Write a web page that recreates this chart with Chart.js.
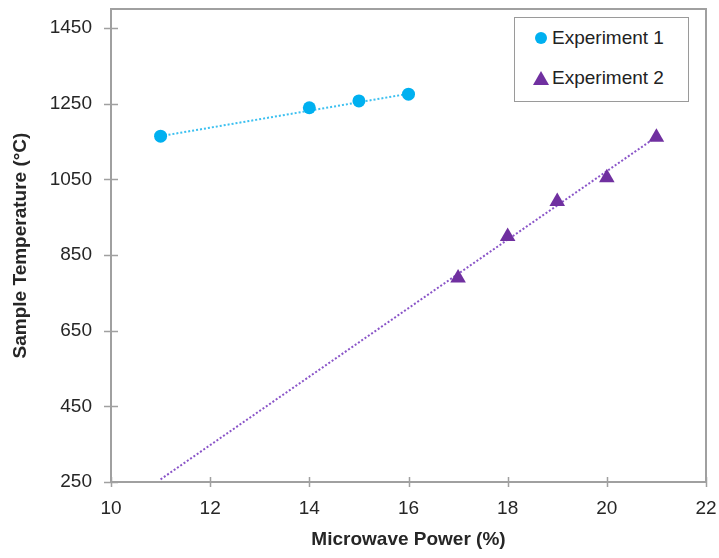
<!DOCTYPE html>
<html lang="en">
<head>
  <meta charset="UTF-8" />
  <title>Sample temperature vs microwave power</title>
  <script src="https://cdn.jsdelivr.net/npm/chart.js"></script>
  <style>
    body {
      margin: 0;
      background: #fff;
      font-family: "Liberation Sans", Arial, sans-serif;
    }
    #wrap {
      position: relative;
      width: 719px;
      height: 558px;
    }
    #legend {
      position: absolute;
      left: 514px;
      top: 17px;
      width: 173px;
      height: 83px;
      border: 1px solid #9a9a9a;
      background: #fff;
      color: #222;
      font-size: 19px;
    }
    .item {
      position: absolute;
      left: 37px;
      line-height: 22px;
    }
    .dot {
      position: absolute;
      left: 20px;
      width: 12px;
      height: 12px;
      border-radius: 50%;
      background: #00b0f0;
    }
    .tri {
      position: absolute;
      left: 18px;
      width: 0;
      height: 0;
      border-left: 8px solid transparent;
      border-right: 8px solid transparent;
      border-bottom: 14px solid #7030a0;
    }
  </style>
</head>
<body>
  <div id="wrap">
    <canvas id="chart"></canvas>
    <div id="legend">
      <span class="dot" style="top:14px"></span>
      <span class="item" style="top:9px">Experiment 1</span>
      <span class="tri" style="top:53px"></span>
      <span class="item" style="top:49px">Experiment 2</span>
    </div>
  </div>

  <script>
    // values
    const exp1X = [11, 14, 15, 16];
    const exp1Y = [1164, 1239, 1257, 1275];
    const exp2X = [17, 18, 19, 20, 21];
    const exp2Y = [789, 899, 991, 1054, 1161];

    // trendline end points (as drawn)
    const trend1X = [11, 16];
    const trend1Y = [1164, 1276];
    const trend2X = [11, 21];
    const trend2Y = [257, 1162];

    const xTicks = [10, 12, 14, 16, 18, 20, 22];
    const yTicks = [250, 450, 650, 850, 1050, 1250, 1450];

    const pts = (xs, ys) => xs.map((x, i) => ({ x: x, y: ys[i] }));

    const axisColor = '#a0a0a0';
    const textColor = '#262626';

    // plot frame and crossing tick marks
    const frame = {
      id: 'frame',
      beforeDatasetsDraw(chart) {
        const { ctx, chartArea: a, scales } = chart;
        ctx.save();
        ctx.strokeStyle = axisColor;
        ctx.lineWidth = 2;
        ctx.strokeRect(a.left, a.top, a.right - a.left, a.bottom - a.top);
        ctx.lineWidth = 1.5;
        ctx.beginPath();
        scales.y.ticks.forEach(t => {
          const py = Math.round(scales.y.getPixelForValue(t.value)) + 0.5;
          ctx.moveTo(a.left - 7, py);
          ctx.lineTo(a.left + 7, py);
        });
        scales.x.ticks.forEach(t => {
          const px = Math.round(scales.x.getPixelForValue(t.value)) + 0.5;
          ctx.moveTo(px, a.bottom - 5);
          ctx.lineTo(px, a.bottom + 5);
        });
        ctx.stroke();
        ctx.restore();
      }
    };

    new Chart(document.getElementById('chart'), {
      type: 'scatter',
      data: {
        datasets: [
          {
            label: 'Trend 1',
            data: pts(trend1X, trend1Y),
            showLine: true,
            borderColor: '#3cc0f0',
            borderWidth: 2,
            borderDash: [2, 2],
            pointRadius: 0,
            order: 3
          },
          {
            label: 'Trend 2',
            data: pts(trend2X, trend2Y),
            showLine: true,
            borderColor: '#8a55c8',
            borderWidth: 2,
            borderDash: [2, 2],
            pointRadius: 0,
            order: 4
          },
          {
            label: 'Experiment 1',
            data: pts(exp1X, exp1Y),
            pointStyle: 'circle',
            pointRadius: 6.5,
            backgroundColor: '#00b0f0',
            borderColor: '#00b0f0',
            borderWidth: 0,
            order: 1
          },
          {
            label: 'Experiment 2',
            data: pts(exp2X, exp2Y),
            pointStyle: 'triangle',
            pointRadius: 9,
            backgroundColor: '#7030a0',
            borderColor: '#7030a0',
            borderWidth: 0,
            order: 2
          }
        ]
      },
      options: {
        responsive: true,
        maintainAspectRatio: false,
        animation: false,
        layout: { padding: { top: 3, right: 13, left: 0, bottom: 0 } },
        plugins: {
          legend: { display: false },
          tooltip: { enabled: false }
        },
        scales: {
          x: {
            type: 'linear',
            min: 10,
            max: 22,
            afterBuildTicks: s => { s.ticks = xTicks.map(v => ({ value: v })); },
            afterFit: s => {
              s.height = 76;
              s.paddingLeft = 0;
              s.paddingRight = 0;
            },
            grid: { display: false, drawTicks: false },
            border: { display: false },
            ticks: {
              padding: 15,
              color: textColor,
              callback: v => String(v),
              font: { family: '"Liberation Sans", Arial', size: 19 }
            },
            title: {
              display: true,
              text: 'Microwave Power (%)',
              color: textColor,
              padding: { top: 0, bottom: 7 },
              font: { family: '"Liberation Sans", Arial', size: 19, weight: 'bold' }
            }
          },
          y: {
            type: 'linear',
            min: 250,
            max: 1500,
            afterBuildTicks: s => { s.ticks = yTicks.map(v => ({ value: v })); },
            afterFit: s => {
              s.width = 111;
              s.paddingTop = 0;
              s.paddingBottom = 0;
            },
            grid: { display: false, drawTicks: false },
            border: { display: false },
            ticks: {
              padding: 19,
              color: textColor,
              callback: v => String(v),
              font: { family: '"Liberation Sans", Arial', size: 19 }
            },
            title: {
              display: true,
              text: 'Sample Temperature (°C)',
              color: textColor,
              padding: { top: 9, bottom: 0 },
              font: { family: '"Liberation Sans", Arial', size: 19, weight: 'bold' }
            }
          }
        }
      },
      plugins: [frame]
    });
  </script>
</body>
</html>
